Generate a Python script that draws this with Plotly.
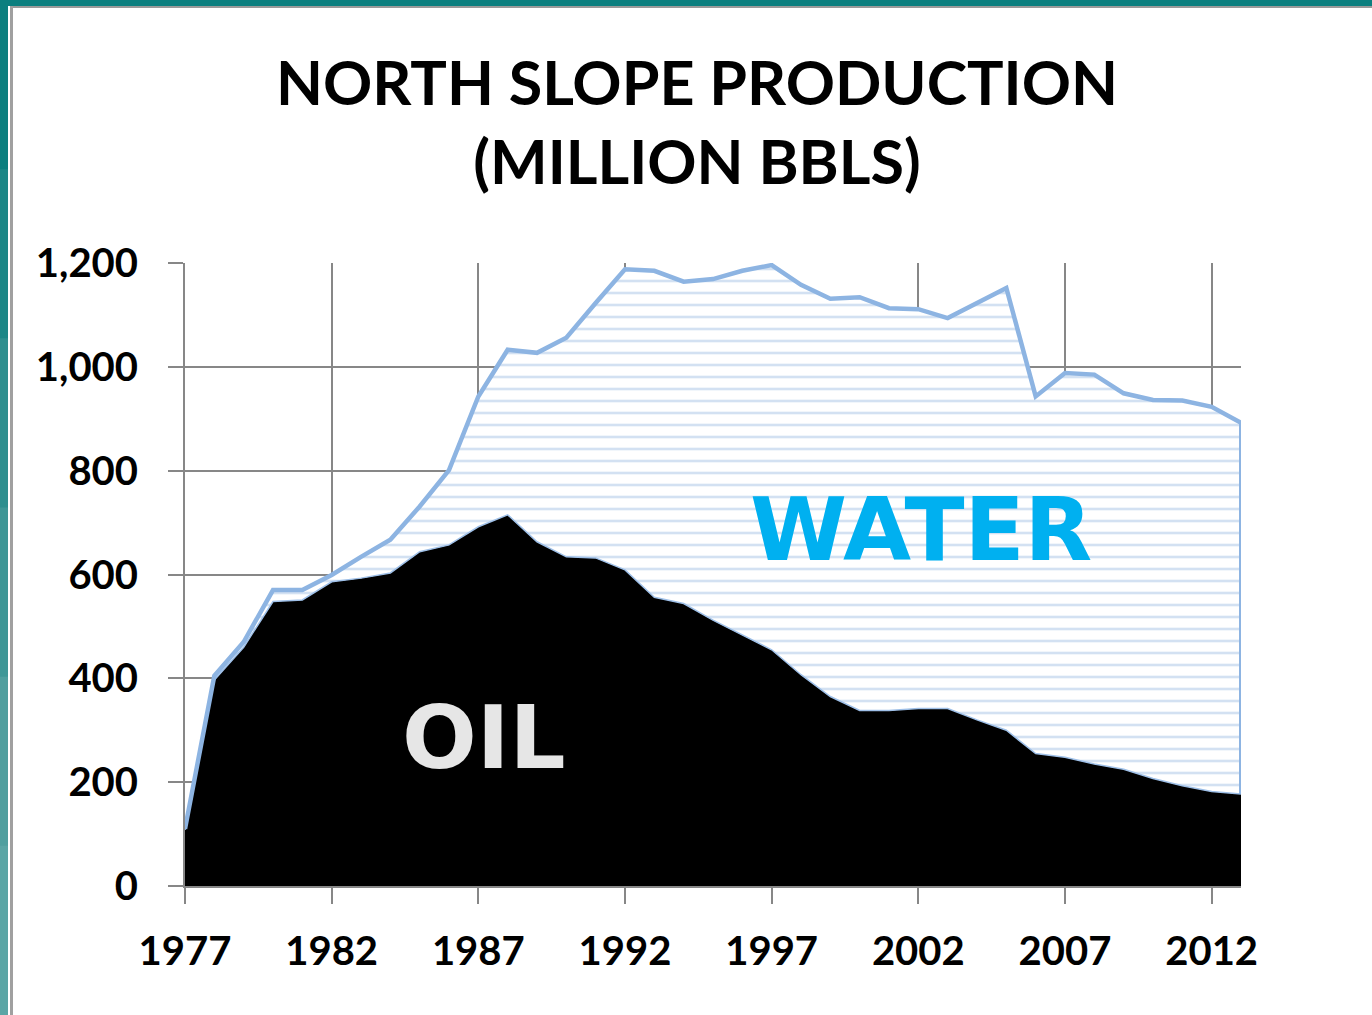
import plotly.graph_objects as go

years = list(range(1977, 2014))
oil = [108, 397, 460, 548, 551, 586, 593, 603, 644, 657, 692, 715, 663, 634, 632,
       609, 556, 544, 512, 483, 455, 407, 365, 338, 338, 342, 342, 320, 300, 255,
       248, 235, 225, 207, 193, 182, 177]
water = [2, 8, 10, 22, 19, 13, 41, 64, 87, 144, 251, 318, 364, 422, 491,
         579, 629, 620, 657, 702, 741, 751, 766, 796, 775, 769, 752, 803, 852, 688,
         740, 750, 724, 729, 742, 741, 715]
y_ticks = [0, 200, 400, 600, 800, 1000, 1200]

W, H = 1372, 1015
L, R, T, B = 185, 1241, 263, 886
blue = "#8DB4E2"


def px(p):
    return (p - L) / (R - L)


def py(q):
    return (B - q) / (B - T)


fig = go.Figure()
fig.add_trace(go.Scatter(
    x=years, y=oil, stackgroup="prod", mode="lines", name="OIL",
    line=dict(color="#9FC0E8", width=1.5), fillcolor="black",
))
fig.add_trace(go.Scatter(
    x=years, y=water, stackgroup="prod", mode="lines", name="WATER",
    line=dict(color=blue, width=4.5),
    fillcolor="white",
    fillpattern=dict(shape="-", fgcolor="#A8C4E6", bgcolor="white",
                     size=12, solidity=0.22),
))
# right edge of the water area
fig.add_trace(go.Scatter(
    x=[years[-1], years[-1]], y=[oil[-1], oil[-1] + water[-1]],
    mode="lines", line=dict(color=blue, width=4), hoverinfo="skip",
))

shapes = [
    dict(type="rect", xref="paper", yref="paper", x0=px(0), x1=px(W), y0=py(0), y1=py(6),
         fillcolor="#0B7F7F", line_width=0, layer="below"),
    dict(type="rect", xref="paper", yref="paper", x0=px(10), x1=px(W), y0=py(6), y1=py(8),
         fillcolor="#9A9A9A", line_width=0, layer="below"),
    dict(type="rect", xref="paper", yref="paper", x0=px(10), x1=px(13), y0=py(H), y1=py(6),
         fillcolor="#A0A0A0", line_width=0, layer="below"),
]
# left band, darker at top and lighter at the bottom
bands = ["#0B7F7F", "#1C8787", "#2E8F8F", "#3F9797", "#509F9F", "#5BA5A5"]
step = H / len(bands)
for i, c in enumerate(bands):
    shapes.append(dict(type="rect", xref="paper", yref="paper", x0=px(0), x1=px(8),
                       y0=py(i * step), y1=py((i + 1) * step + 1),
                       fillcolor=c, line_width=0, layer="below"))

fig.update_layout(
    width=W, height=H,
    margin=dict(l=L, r=W - R, t=T, b=H - B),
    paper_bgcolor="white", plot_bgcolor="white",
    showlegend=False,
    title=dict(text="NORTH SLOPE PRODUCTION<br>(MILLION BBLS)",
               x=697 / W, xanchor="center", y=1 - 105 / H, yanchor="top",
               yref="container",
               font=dict(family="Lato", size=61, weight="bold", color="black")),
    shapes=shapes,
    annotations=[
        dict(text="OIL", x=1987.2, y=287, xref="x", yref="y", showarrow=False,
             font=dict(family="DejaVu Sans", size=88, weight="bold", color="#E6E6E6")),
        dict(text="WATER", x=2002.1, y=686, xref="x", yref="y", showarrow=False,
             font=dict(family="DejaVu Sans", size=88, weight="bold", color="#00B0F0")),
    ],
)
fig.update_xaxes(
    range=[1977, 2013], tick0=1977, dtick=5, showgrid=True,
    gridcolor="#878787", gridwidth=2, showline=True, linecolor="#878787", linewidth=2,
    ticks="outside", ticklen=16, tickwidth=2, tickcolor="#878787",
    ticklabelstandoff=13,
    tickfont=dict(family="Lato", size=40, weight="bold", color="black"),
    zeroline=False,
)
fig.update_yaxes(
    range=[0, 1200], tickvals=y_ticks, tickformat=",", showgrid=True,
    gridcolor="#878787", gridwidth=2, showline=True, linecolor="#878787", linewidth=2,
    ticks="outside", ticklen=15, tickwidth=2, tickcolor="#878787",
    ticklabelstandoff=22,
    tickfont=dict(family="Lato", size=40, weight="bold", color="black"),
    zeroline=False,
)

fig.write_html("out.html", config={"displayModeBar": False},
               post_script="document.body.style.margin='0';")
